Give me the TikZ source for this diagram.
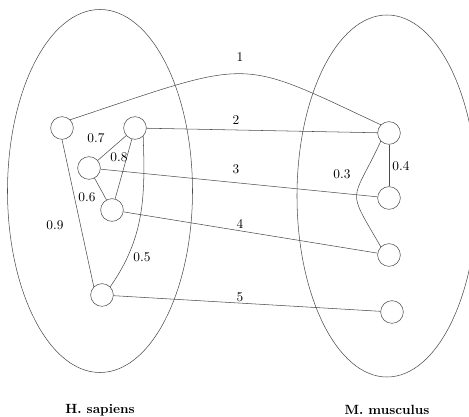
\documentclass[tikz,border=0pt]{standalone}
\usepackage{tikz}
\usetikzlibrary{positioning}

\begin{document}
\begin{tikzpicture}[x=0.75pt, y=0.75pt,
  gene/.style={circle, draw=black!70, minimum size=17pt, inner sep=0pt},
  link/.style={draw=black!70},
  wlabel/.style={inner sep=0pt},
  species/.style={font=\bfseries}]
\useasboundingbox (0,0) rectangle (469,-417);
% ---------- the two species ----------
\draw[black!70] (100,-191) ellipse [x radius=92.5, y radius=181.5];
\draw[black!70] (387,-196) ellipse [x radius=90, y radius=181];
\node[species] (hs) at (100,-410) {H. sapiens};
\node[species] (mm) at (387,-410) {M. musculus};
% ---------- proteins ----------
\node[gene] (a1) at (62,-128) {};
\node[gene] (a2) at (135,-128) {};
\node[gene] (a3) at (89,-168) {};
\node[gene] (a4) at (112,-210) {};
\node[gene] (a5) at (102,-295) {};
\node[gene] (b1) at (389,-133) {};
\node[gene] (b2) at (389,-198) {};
\node[gene] (b3) at (389,-255) {};
\node[gene] (b4) at (392,-312) {};
% ---------- edges inside each network ----------
\draw[link] (a1.south) -- (a5.north west);
\draw[link] (a2) -- (a3);
\draw[link] (a2) -- (a4);
\draw[link] (a3) -- (a4);
\draw[link] (a2.south east) to[out=-88, in=55] (a5.north east);
\draw[link] (b1) -- (b2);
\draw[link] (b1.south west) to[out=-115, in=120, looseness=1.7] (b3.north west);
\node[wlabel] (w09) at (55,-225) {0.9};
\node[wlabel] (w07) at (96,-138) {0.7};
\node[wlabel] (w08) at (119,-157) {0.8};
\node[wlabel] (w06) at (87,-197) {0.6};
\node[wlabel] (w05) at (142,-257) {0.5};
\node[wlabel] (w03) at (342,-174) {0.3};
\node[wlabel] (w04) at (401,-166) {0.4};
% ---------- alignment ----------
\draw[link] (a1.north east) .. controls (255,-58) and (236,-57) .. (b1.north west);
\draw[link] (a2) -- (b1);
\draw[link] (a3) -- (b2);
\draw[link] (a4) -- (b3);
\draw[link] (a5) -- (b4);
\node[wlabel] (l1) at (240,-57) {1};
\node[wlabel] (l2) at (236,-120) {2};
\node[wlabel] (l3) at (236,-169) {3};
\node[wlabel] (l4) at (240,-224) {4};
\node[wlabel] (l5) at (240,-297) {5};
\end{tikzpicture}
\end{document}
